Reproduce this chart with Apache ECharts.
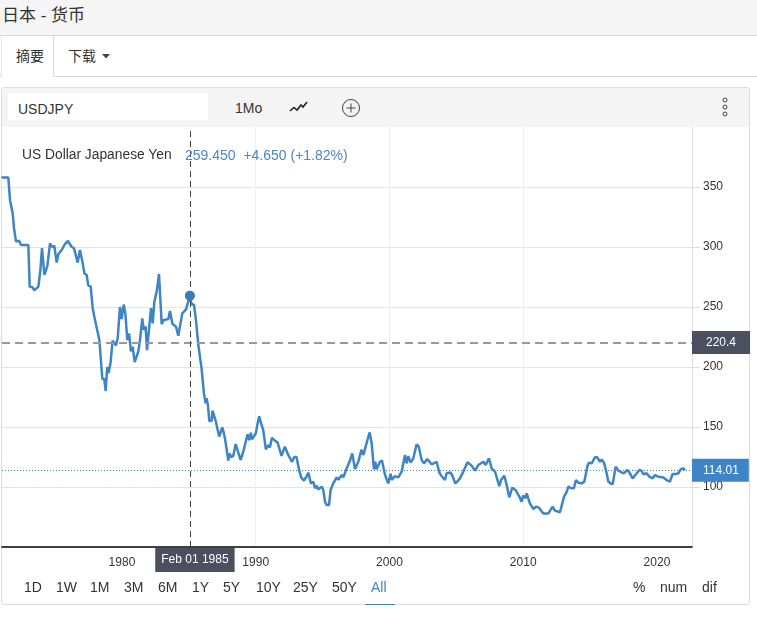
<!DOCTYPE html>
<html lang="zh-CN">
<head>
    <meta charset="UTF-8">
    <title>日本 - 货币</title>
    <script src="https://cdn.jsdelivr.net/npm/echarts/dist/echarts.min.js"></script>
    <style>
        html, body { margin: 0; padding: 0; background: #fff; }
        body { width: 757px; height: 621px; position: relative; overflow: hidden; color: #333;
               font-family: "Liberation Sans", "Noto Sans CJK SC", sans-serif; font-size: 14px; }
        .abs { position: absolute; white-space: nowrap; }
        .header { left: 0; top: 0; width: 757px; height: 35px; background: #f5f5f5; border-bottom: 1px solid #d8d8d8; }
        .title { left: 2px; top: 5px; font-size: 17px; line-height: 22px; }
        .tabs { left: 0; top: 36px; width: 757px; height: 40px; border-bottom: 1px solid #d8d8d8; }
        .tab-active { left: 1px; top: 36px; width: 51px; height: 41px; background: #fff; border-left: 1px solid #e4e4e4; border-right: 1px solid #d8d8d8; }
        .panel { left: 1px; top: 87px; width: 749px; height: 518px; border: 1px solid #dcdcdc; border-radius: 3px; box-sizing: border-box; }
        .toolbar { left: 2px; top: 88px; width: 747px; height: 39px; background: #f4f4f4; }
        .input { left: 8px; top: 93px; width: 200px; height: 27px; background: #fff; }
        .range { top: 579px; line-height: 17px; font-size: 14px; }
        #chart { position: absolute; left: 0; top: 0; width: 757px; height: 621px; }
    </style>
</head>
<body>
<div class="abs header"></div>
<div class="abs title">日本 - 货币</div>
<div class="abs tabs"></div>
<div class="abs tab-active"></div>
<div class="abs" style="left:16px;top:45px;">摘要</div>
<div class="abs" style="left:68px;top:45px;">下载</div>
<svg class="abs" style="left:102px;top:54px;" width="8" height="5"><path d="M0 0H8L4 4.5Z" fill="#444"/></svg>

<div class="abs panel"></div>
<div class="abs toolbar"></div>
<div class="abs input"></div>
<div class="abs" style="left:18px;top:101px;">USDJPY</div>
<div class="abs" style="left:235px;top:100px;">1Mo</div>
<svg class="abs" style="left:289px;top:100px;" width="19" height="14"><path d="M1 11L5 7.5L8 10L12 5L14 7L18 2" fill="none" stroke="#222" stroke-width="1.6"/></svg>
<svg class="abs" style="left:341px;top:98px;" width="20" height="20"><circle cx="10" cy="10" r="8.5" fill="none" stroke="#444"/><path d="M10 5.5V14.5M5.5 10H14.5" stroke="#444"/></svg>
<svg class="abs" style="left:721px;top:96px;" width="8" height="22"><circle cx="4" cy="4" r="2" fill="none" stroke="#444"/><circle cx="4" cy="11" r="2" fill="none" stroke="#444"/><circle cx="4" cy="18" r="2" fill="none" stroke="#444"/></svg>

<div id="chart"></div>

<div class="abs" style="left:22px;top:147px;font-size:13.8px;">US Dollar Japanese Yen</div>
<div class="abs" style="left:185px;top:147px;font-size:14px;color:#4a86bf;">259.450&nbsp;&nbsp;+4.650 (+1.82%)</div>

<div class="abs range" style="left:24px;">1D</div>
<div class="abs range" style="left:56px;">1W</div>
<div class="abs range" style="left:90px;">1M</div>
<div class="abs range" style="left:124px;">3M</div>
<div class="abs range" style="left:158px;">6M</div>
<div class="abs range" style="left:192px;">1Y</div>
<div class="abs range" style="left:223px;">5Y</div>
<div class="abs range" style="left:256px;">10Y</div>
<div class="abs range" style="left:293px;">25Y</div>
<div class="abs range" style="left:332px;">50Y</div>
<div class="abs range" style="left:371px;color:#3d85c6;">All</div>
<div class="abs" style="left:365px;top:604px;width:30px;height:1px;background:#3d85c6;"></div>
<div class="abs range" style="left:633px;">%</div>
<div class="abs range" style="left:660px;">num</div>
<div class="abs range" style="left:702px;">dif</div>

<script>
    // 数据（年份用小数表示）
    const years = [
        1971.0, 1971.5, 1971.63, 1971.83, 1971.93, 1972.08, 1972.3, 1972.45, 1973.0, 1973.1, 1973.3, 1973.45, 1973.75, 1973.9,
        1974.02, 1974.2, 1974.42, 1974.62, 1974.77, 1974.94, 1975.12, 1975.24, 1975.37, 1975.49, 1975.74, 1975.96, 1976.24,
        1976.41, 1976.69, 1976.86, 1977.04, 1977.19, 1977.36, 1977.48, 1977.66, 1977.81, 1977.93, 1978.06, 1978.31, 1978.53,
        1978.68, 1978.78, 1978.9, 1979.0, 1979.15, 1979.3, 1979.55, 1979.68, 1979.85, 1979.98, 1980.13, 1980.25, 1980.4,
        1980.53, 1980.67, 1980.8, 1980.95, 1981.22, 1981.35, 1981.52, 1981.62, 1981.77, 1981.87, 1982.02, 1982.17, 1982.3,
        1982.42, 1982.6, 1982.77, 1982.97, 1983.09, 1983.47, 1983.59, 1983.77, 1984.04, 1984.21, 1984.51, 1984.79, 1985.08,
        1985.2, 1985.39, 1985.53, 1985.63, 1985.71, 1985.95, 1986.13, 1986.25, 1986.33, 1986.43, 1986.53, 1986.7, 1986.77,
        1987.02, 1987.1, 1987.27, 1987.5, 1987.57, 1987.7, 1987.95, 1988.05, 1988.15, 1988.32, 1988.5, 1988.62, 1988.87,
        1989.07, 1989.19, 1989.39, 1989.52, 1989.64, 1989.72, 1990.01, 1990.14, 1990.26, 1990.36, 1990.56, 1990.76, 1990.96,
        1991.06, 1991.21, 1991.44, 1991.63, 1991.93, 1992.18, 1992.26, 1992.43, 1992.56, 1992.71, 1992.88, 1993.05, 1993.25,
        1993.4, 1993.61, 1993.86, 1993.93, 1994.13, 1994.31, 1994.43, 1994.56, 1994.68, 1994.93, 1995.05, 1995.18, 1995.3,
        1995.48, 1995.6, 1995.8, 1996.05, 1996.18, 1996.43, 1996.55, 1996.8, 1997.05, 1997.22, 1997.42, 1997.67, 1997.9,
        1998.05, 1998.34, 1998.52, 1998.67, 1998.84, 1998.94, 1999.04, 1999.29, 1999.44, 1999.67, 1999.91, 2000.09, 2000.16,
        2000.41, 2000.66, 2000.91, 2001.16, 2001.28, 2001.41, 2001.58, 2001.78, 2002.03, 2002.18, 2002.41, 2002.58, 2002.83,
        2003.15, 2003.53, 2003.73, 2003.9, 2004.15, 2004.27, 2004.57, 2004.72, 2004.92, 2005.07, 2005.27, 2005.52, 2005.84,
        2006.14, 2006.39, 2006.64, 2006.77, 2007.02, 2007.19, 2007.44, 2007.64, 2007.89, 2008.21, 2008.34, 2008.59, 2008.76,
        2008.96, 2009.18, 2009.43, 2009.71, 2009.88, 2010.0, 2010.18, 2010.26, 2010.5, 2010.75, 2010.95, 2011.18, 2011.5,
        2011.88, 2012.0, 2012.2, 2012.37, 2012.75, 2013.05, 2013.25, 2013.37, 2013.62, 2013.79, 2013.94, 2014.12, 2014.37,
        2014.57, 2014.82, 2014.92, 2015.12, 2015.36, 2015.54, 2015.74, 2015.86, 2016.04, 2016.24, 2016.36, 2016.54, 2016.69,
        2016.91, 2017.11, 2017.36, 2017.53, 2017.78, 2017.98, 2018.18, 2018.43, 2018.68, 2018.85, 2018.98, 2019.23, 2019.43,
        2019.68, 2019.85, 2020.1, 2020.47, 2020.72, 2020.97, 2021.17, 2021.42, 2021.6, 2021.77, 2021.97, 2022.1
    ];
    const usdjpy = [
        358, 358, 339, 328, 315.5, 304.5, 305.3, 301.7, 301.7, 267, 266.4, 264, 267, 281,
        299, 276.7, 284, 303, 300, 301, 287, 294, 292.5, 297.5, 302.5, 305, 300,
        299, 287, 297.5, 288, 278, 276.7, 268, 267, 249, 242, 240.5, 222.5, 190,
        190, 180, 200, 195, 204, 222, 218, 224, 250, 240, 252, 245, 222.5,
        228, 213, 217, 204, 213, 222.5, 240.5, 231, 233.6, 214, 231, 249, 236.4,
        254.4, 263, 277.5, 235.6, 239, 240, 246.7, 236, 233.6, 226, 244.7, 248, 259.45,
        252.5, 251.7, 239, 237.8, 218.3, 198.9, 178, 169.7, 174, 168, 155, 155, 163.6,
        154.4, 153.6, 142, 149.7, 147, 140.6, 122, 128, 125, 125.8, 135.8, 136.4, 122.5,
        129.4, 130.8, 143.9, 139, 145.3, 139.7, 144.7, 153, 159, 154.4, 147.5, 131.4, 135,
        133, 141, 138.6, 137.2, 126, 133.6, 133.6, 126.7, 127.5, 121, 125, 125, 114,
        108, 105.3, 110, 112, 103, 104.4, 99, 101, 98, 100.3, 97.5, 87.8, 85,
        85, 97.5, 103, 108, 106, 110, 108, 115.5, 122, 128, 115, 121, 131,
        126.7, 138.6, 145.5, 136.4, 114.7, 121, 114.7, 121, 122, 110, 103, 111, 106,
        109, 108, 112.8, 126.7, 119.7, 125.8, 120.3, 123.9, 135.5, 134, 122.5, 119.7, 123.3,
        118.9, 121, 112, 109, 105.8, 111.4, 112, 109, 103, 104.5, 107.2, 112.8, 120.6,
        117.8, 113.6, 118.3, 117, 121, 118.3, 123.9, 115.6, 112.8, 100.8, 105.8, 109.4, 101.7,
        91.4, 99.4, 97.5, 92, 87.8, 92.8, 90.6, 94.7, 86.4, 81.7, 83.6, 82.8, 78,
        78, 79.4, 83.6, 80.3, 79, 92, 96, 100.3, 98.9, 98.9, 105.8, 103.6, 103,
        104.5, 118.3, 120.3, 119.7, 124.7, 124.7, 121, 123, 120.3, 111.4, 104.5, 103, 102.2,
        117, 113.6, 112.2, 111.4, 114.2, 111.4, 107.2, 110.6, 114.2, 113.6, 110.6, 111.4, 108.6,
        107.2, 110, 108.6, 108, 105.8, 104.5, 110.8, 110.8, 111.4, 114.7, 115.6, 114.01
    ];
    const tickYears = [1980, 1990, 2000, 2010, 2020];
    const crossYear = 1985.08;
    const crossValue = 259.45;
    const crossDate = 'Feb 01 1985';
    const cursorValue = 220.4;
    const lastValue = 114.01;

    const chart = echarts.init(document.getElementById('chart'));
    const fontFamily = '"Liberation Sans", sans-serif';
    const blue = '#3d85c6';
    const dark = '#4a5060';

    chart.setOption({
        animation: false,
        grid: { left: 2, right: 65, top: 127, bottom: 74 },
        xAxis: {
            type: 'value',
            min: 1971.03,
            max: 2022.62,
            axisLine: { show: true, onZero: false, lineStyle: { color: '#000', width: 1.5 } },
            axisTick: { show: false, customValues: tickYears },
            axisLabel: { customValues: tickYears, color: '#333', fontSize: 12, fontFamily, margin: 10, formatter: v => String(v) },
            splitLine: { show: true, showMinLine: false, showMaxLine: false, lineStyle: { color: '#efefef', width: 1 } }
        },
        yAxis: {
            type: 'value',
            position: 'right',
            min: 50,
            max: 400,
            interval: 50,
            axisLine: { show: true, lineStyle: { color: '#e0e0e0' } },
            axisTick: { show: true, length: 8, lineStyle: { color: '#ddd' } },
            axisLabel: { color: '#333', fontSize: 12, fontFamily, margin: 11, showMinLabel: false, showMaxLabel: false },
            splitLine: { show: true, showMinLine: false, showMaxLine: false, lineStyle: { color: '#e4e4e4', width: 1 } }
        },
        series: [{
            type: 'line',
            data: years.map((y, i) => [y, usdjpy[i]]),
            showSymbol: false,
            smooth: false,
            lineStyle: { color: blue, width: 2.5 },
            markLine: {
                silent: true,
                symbol: 'none',
                animation: false,
                precision: 2,
                data: [
                    {
                        yAxis: lastValue,
                        lineStyle: { color: blue, type: [1, 2], width: 1 },
                        label: {
                            position: 'end', distance: 0, formatter: String(lastValue), color: '#fff', fontSize: 12,
                            fontFamily, backgroundColor: blue, padding: [5, 10, 6, 11]
                        }
                    },
                    {
                        yAxis: cursorValue,
                        lineStyle: { color: '#999', type: [8, 5], width: 2 },
                        label: {
                            position: 'end', distance: 0, formatter: String(cursorValue), color: '#fff', fontSize: 12,
                            fontFamily, backgroundColor: dark, padding: [6, 14, 5, 14]
                        }
                    },
                    {
                        xAxis: crossYear,
                        lineStyle: { color: '#444', type: [6, 4], width: 1 },
                        label: {
                            position: 'start', distance: 1, offset: [5, 0], formatter: crossDate, color: '#fff', fontSize: 12,
                            fontFamily, backgroundColor: dark, padding: [6, 6, 6, 6]
                        }
                    }
                ]
            },
            markPoint: {
                silent: true,
                animation: false,
                symbol: 'circle',
                symbolSize: 10,
                itemStyle: { color: '#3a7ab8' },
                label: { show: false },
                data: [{ coord: [crossYear, crossValue] }]
            }
        }]
    });
</script>
</body>
</html>
